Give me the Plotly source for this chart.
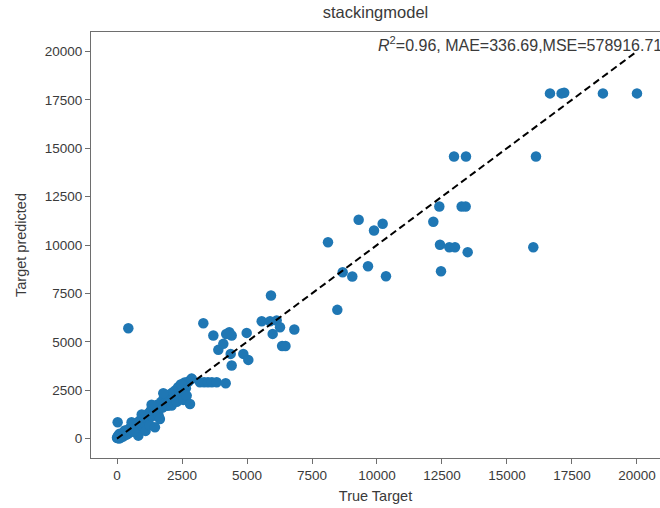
import plotly.graph_objects as go

true_target = [
    20, 50, 80, 120, 150, 200, 250, 300, 350, 400, 450, 500, 550, 600, 650, 700,
    750, 800, 820, 850, 900, 950, 1000, 1050, 1100, 1150, 1200, 1250, 1300, 1350,
    1400, 1460, 1500, 1550, 1600, 1650, 1700, 1750, 1800, 1850, 1900, 1950, 2000,
    2050, 2100, 2150, 2200, 2250, 2300, 2350, 2400, 2450, 2500, 2550, 2600, 2650,
    2680, 2750, 2808, 2870, 25, 560, 950, 1330, 1780, 2480, 100, 180, 60, 300,
    420, 650, 0, 30,
    2873, 3190, 3350, 3500, 3650, 3835, 4181, 3320, 3705, 4320, 4410, 4200, 4988,
    3897, 4089, 4372, 4410, 4858, 5050, 5565, 5885, 6142, 6270, 5988, 6820, 6350,
    6480, 5923, 8474, 435,
    8115, 9295, 9885, 10218, 8680, 9050, 9654, 10346, 12166, 12397, 13256, 13410,
    12423, 12782, 13000, 13488, 12462, 12962, 13423, 16115, 16012, 16654, 17100,
    17200, 18690, 20000,
]

target_predicted = [
    30, 80, 10, 150, 60, 250, 120, 320, 200, 450, 300, 550, 380, 650, 500, 780,
    600, 300, 155, 900, 700, 1050, 850, 1150, 400, 1000, 1300, 700, 1450, 1150,
    1600, 585, 1400, 1750, 1200, 1016, 1900, 1600, 2100, 1850, 2250, 1700, 2000,
    2300, 1705, 2400, 2100, 2500, 1900, 2650, 2300, 2800, 2450, 2000, 2900, 2600,
    2222, 2950, 1793, 3100, 842, 850, 1250, 1750, 2350, 2800, 250, 100, 180, 420,
    250, 350, 50, 120,
    3085, 2910, 2910, 2910, 2910, 2910, 2858, 5960, 5323, 5494, 5323, 5400, 5460,
    4584, 4894, 4377, 3773, 4377, 4067, 6062, 6062, 6098, 5752, 5410, 5633, 4780,
    4780, 7390, 6651, 5700,
    10145, 11302, 10750, 11095, 8595, 8372, 8906, 8388, 11200, 11990, 11990, 11990,
    10010, 9888, 9888, 9630, 8646, 14573, 14573, 14573, 9888, 17829, 17829,
    17860, 17829, 17829,
]

diag_x = [0, 20000]
diag_y = [0, 20000]

title_text = "stackingmodel"
metric_text = "<i>R</i><sup>2</sup>=0.96, MAE=336.69,MSE=578916.71"
tick_vals = [0, 2500, 5000, 7500, 10000, 12500, 15000, 17500, 20000]

TXT = "#3a3a3a"

fig = go.Figure()
fig.add_trace(go.Scatter(
    x=true_target, y=target_predicted, mode="markers",
    marker=dict(color="#1f77b4", size=10.5, line=dict(width=0)),
    showlegend=False,
))
fig.add_trace(go.Scatter(
    x=diag_x, y=diag_y, mode="lines",
    line=dict(color="black", width=2, dash="7px,4px"),
    showlegend=False,
))

fig.add_annotation(
    x=10000, y=20000, xref="x", yref="y", text=metric_text,
    xanchor="left", yanchor="bottom", showarrow=False,
    font=dict(size=16, color=TXT), borderpad=0, yshift=-4,
)

axis_common = dict(
    showgrid=False, zeroline=False, showline=True, linecolor="#6e6e6e",
    linewidth=1.2, ticks="outside", ticklen=5, tickcolor="#6e6e6e",
    tickfont=dict(size=13.5, color=TXT),
    tickvals=tick_vals, ticktext=[str(v) for v in tick_vals],
)

fig.update_layout(
    width=660, height=508,
    margin=dict(l=91, r=0, t=32, b=50),
    paper_bgcolor="white", plot_bgcolor="white",
    font=dict(family="Liberation Sans, Arial, sans-serif", color=TXT),
    title=dict(text=title_text, x=0.5, xref="paper", y=0.976, yref="container",
               xanchor="center", yanchor="middle",
               font=dict(size=16.5, color=TXT)),
    xaxis=dict(range=[-1000, 20885], mirror=True,
               title=dict(text="True Target", font=dict(size=14.5, color=TXT), standoff=8),
               **axis_common),
    yaxis=dict(range=[-1000, 21000], mirror=False,
               title=dict(text="Target predicted", font=dict(size=14.5, color=TXT), standoff=14),
               **axis_common),
)

fig.write_html("out.html")
